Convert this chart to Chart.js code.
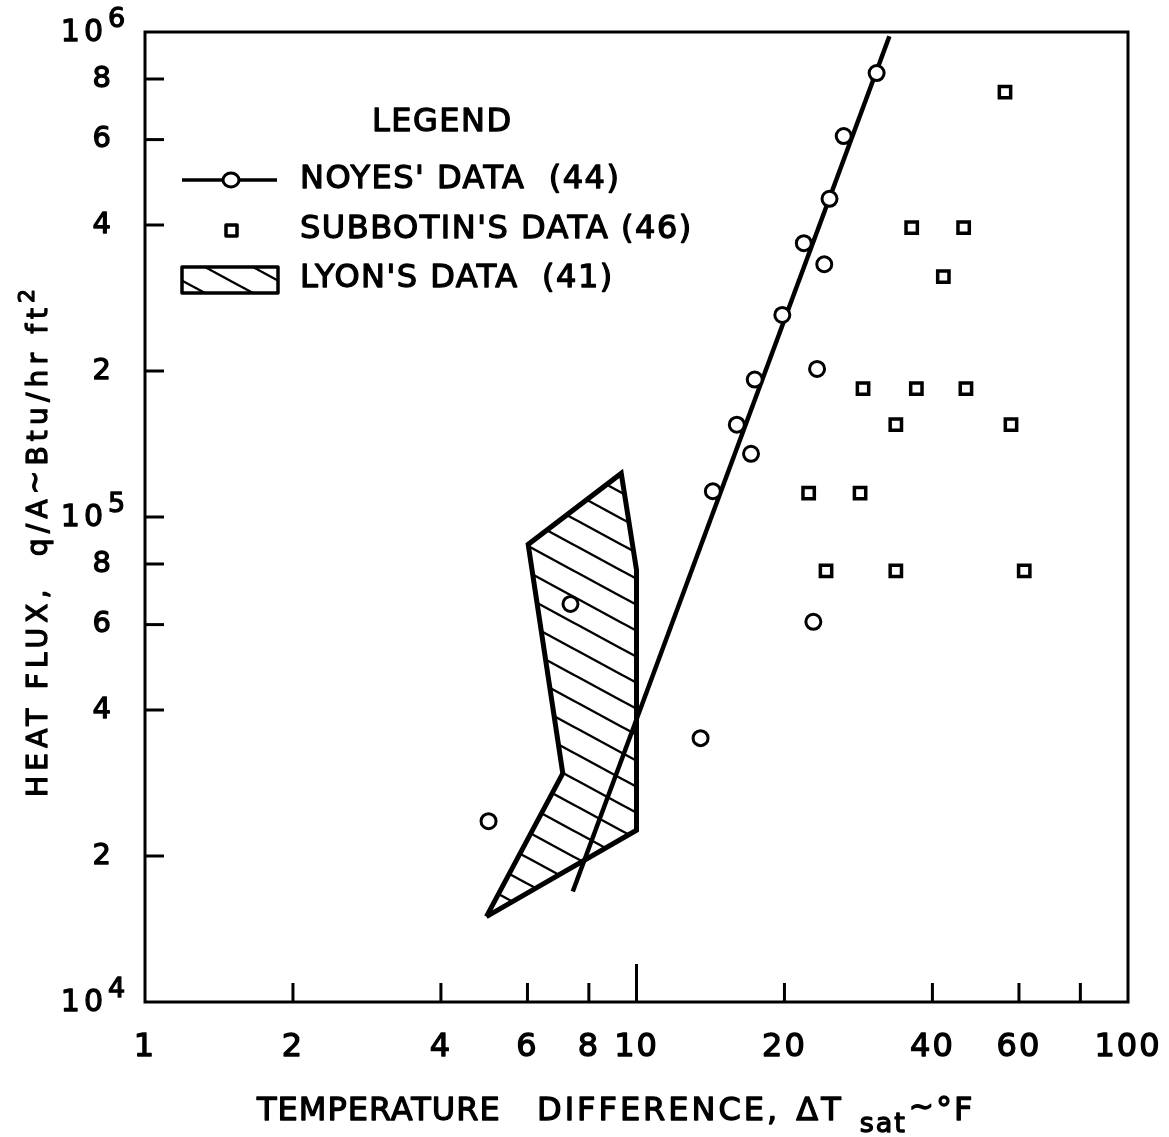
<!DOCTYPE html>
<html>
<head>
<meta charset="utf-8">
<script src="https://cdn.jsdelivr.net/npm/chart.js@4.4.1/dist/chart.umd.min.js"></script>
<style>
  html, body { margin: 0; padding: 0; background: #fff; }
  #wrap { width: 1169px; height: 1137px; position: relative; }
</style>
</head>
<body>
<div id="wrap"><canvas id="chart"></canvas></div>
<script>
(function () {
  "use strict";

  /* ---- data (ΔT in °F, q/A in Btu/hr ft²) ---- */
  var noyesDT = [30.8, 26.4, 24.7, 21.9, 24.1, 19.8, 23.3, 17.4, 16.0, 17.1, 14.3, 7.34, 22.9, 13.5, 5.0];
  var noyesQ  = [823000, 610000, 453000, 367000, 332000, 261000, 202000, 192000, 155000, 135000, 113000, 66200, 60800, 35000, 23600];

  var fitDT = [7.42, 32.7];
  var fitQ  = [16900, 980000];

  var subbotinDT = [56.2, 36.3, 46.3, 42.1, 28.9, 37.1, 46.8, 33.7, 57.8, 22.4, 28.5, 24.3, 33.7, 61.5];
  var subbotinQ  = [752000, 395000, 395000, 313000, 184000, 184000, 184000, 155000, 155000, 112000, 112000, 77400, 77400, 77400];

  var lyonDT = [4.95, 7.08, 6.02, 9.31, 10.0, 10.0, 4.95];
  var lyonQ  = [15000, 29600, 87800, 123000, 77800, 22600, 15000];

  var xTickValues = [2, 4, 6, 8, 10, 20, 40, 60, 80];
  var xLabelValues = [1, 2, 4, 6, 8, 10, 20, 40, 60, 100];
  var xLabelText = ["1", "2", "4", "6", "8", "10", "20", "40", "60", "100"];

  var yTickValues = [2e4, 4e4, 6e4, 8e4, 1e5, 2e5, 4e5, 6e5, 8e5];
  var yLabelValues = [1e4, 2e4, 4e4, 6e4, 8e4, 1e5, 2e5, 4e5, 6e5, 8e5, 1e6];
  var yLabelText = ["10", "2", "4", "6", "8", "10", "2", "4", "6", "8", "10"];
  var yLabelSup  = ["4", "", "", "", "", "5", "", "", "", "", "6"];

  function pts(xs, ys) {
    return xs.map(function (x, i) { return { x: x, y: ys[i] }; });
  }

  // diagonal hatch used for Lyon's band
  function hatch() {
    var W = 48, H = 26;
    var c = document.createElement("canvas");
    c.width = W; c.height = H;
    var g = c.getContext("2d");
    g.strokeStyle = "#000";
    g.lineWidth = 2.4;
    [-1, 0, 1].forEach(function (k) {
      g.beginPath();
      g.moveTo(-2, k * H - 2 * H / W);
      g.lineTo(W + 2, k * H + H + 2 * H / W);
      g.stroke();
    });
    return g.createPattern(c, "repeat");
  }
  var hatchFill = hatch();

  var FONT = "'DejaVu Sans', sans-serif";

  function spaced(ctx, px) {
    if ("letterSpacing" in ctx) ctx.letterSpacing = px + "px";
  }

  // filled + thin outline, to get the heavy lettering of the original
  function txt(ctx, s, x, y) {
    ctx.fillText(s, x, y);
    ctx.strokeText(s, x, y);
  }

  // draw text pieces left to right: [text, size, dy]
  function rich(ctx, parts, x, y, spacing) {
    var cx = x;
    parts.forEach(function (p) {
      ctx.font = p[1] + "px " + FONT;
      spaced(ctx, spacing || 0);
      txt(ctx, p[0], cx, y + (p[2] || 0));
      cx += ctx.measureText(p[0]).width;
    });
    return cx;
  }

  var decor = {
    id: "decor",
    afterDatasetsDraw: function (chart) {
      var ctx = chart.ctx, a = chart.chartArea;
      var xs = chart.scales.x, ys = chart.scales.y;
      ctx.save();
      ctx.strokeStyle = "#000";
      ctx.fillStyle = "#000";
      ctx.lineCap = "butt";

      // frame
      ctx.lineWidth = 3;
      ctx.strokeRect(a.left, a.top, a.right - a.left, a.bottom - a.top);

      // inward ticks
      xTickValues.forEach(function (v) {
        var px = xs.getPixelForValue(v);
        var len = v === 10 ? 38 : 19;
        ctx.beginPath();
        ctx.moveTo(px, a.bottom);
        ctx.lineTo(px, a.bottom - len);
        ctx.stroke();
      });
      yTickValues.forEach(function (v) {
        var py = ys.getPixelForValue(v);
        ctx.beginPath();
        ctx.moveTo(a.left, py);
        ctx.lineTo(a.left + 19, py);
        ctx.stroke();
      });

      ctx.lineWidth = 1.3;
      ctx.lineJoin = "round";

      // x tick labels
      ctx.textBaseline = "middle";
      ctx.textAlign = "center";
      ctx.font = "32px " + FONT;
      spaced(ctx, 2);
      xLabelValues.forEach(function (v, i) {
        txt(ctx, xLabelText[i], xs.getPixelForValue(v), 1048);
      });

      // y tick labels
      yLabelValues.forEach(function (v, i) {
        var py = ys.getPixelForValue(v);
        if (yLabelSup[i]) {
          ctx.textAlign = "right";
          ctx.font = "30px " + FONT;
          spaced(ctx, 4);
          txt(ctx, yLabelText[i], 107, py + 1);
          ctx.textAlign = "left";
          ctx.font = "27px " + FONT;
          spaced(ctx, 0);
          txt(ctx, yLabelSup[i], 108, py - 12);
        } else {
          ctx.textAlign = "right";
          ctx.font = "29px " + FONT;
          spaced(ctx, 0);
          txt(ctx, yLabelText[i], 111, py);
        }
      });

      // x axis title
      ctx.textAlign = "left";
      ctx.textBaseline = "alphabetic";
      rich(ctx, [["TEMPERATURE", 32]], 257, 1120, 1);
      var e = rich(ctx, [["DIFFERENCE,", 32]], 537, 1120, 3);
      e = rich(ctx, [["ΔT", 32]], e + 16, 1120, 3);
      e = rich(ctx, [["sat", 27, 12]], e + 16, 1120, 2);
      rich(ctx, [["~", 30, -4], ["°F", 32]], e + 2, 1120, 2);

      // y axis title (rotated)
      ctx.save();
      ctx.translate(47, 797);
      ctx.rotate(-Math.PI / 2);
      ctx.textBaseline = "alphabetic";
      rich(ctx, [["HEAT FLUX,  q/A", 28], ["~", 28, -3], ["Btu/hr ft", 28], ["2", 22, -13]], 0, 0, 5.2);
      ctx.restore();

      // legend
      ctx.textAlign = "left";
      ctx.textBaseline = "middle";
      ctx.font = "32px " + FONT;
      spaced(ctx, 1.5);
      txt(ctx, "LEGEND", 372, 123);
      txt(ctx, "NOYES' DATA  (44)", 300, 180);
      txt(ctx, "SUBBOTIN'S DATA (46)", 300, 230);
      txt(ctx, "LYON'S DATA  (41)", 300, 279);
      spaced(ctx, 0);

      ctx.lineWidth = 3.5;
      ctx.beginPath();
      ctx.moveTo(182, 180);
      ctx.lineTo(277, 180);
      ctx.stroke();
      ctx.beginPath();
      ctx.ellipse(231, 180, 8, 7, 0, 0, Math.PI * 2);
      ctx.fillStyle = "#fff";
      ctx.fill();
      ctx.lineWidth = 3;
      ctx.stroke();

      ctx.lineWidth = 3.5;
      ctx.fillRect(226, 225, 11, 11);
      ctx.strokeRect(226, 225, 11, 11);

      ctx.fillStyle = hatchFill;
      ctx.fillRect(182, 267, 96, 26);
      ctx.lineWidth = 3.5;
      ctx.strokeRect(182, 267, 96, 26);

      ctx.restore();
    }
  };

  new Chart(document.getElementById("chart"), {
    type: "scatter",
    data: {
      datasets: [
        {
          label: "LYON'S DATA (41)",
          type: "line",
          data: pts(lyonDT, lyonQ),
          borderColor: "#000",
          borderWidth: 5,
          borderJoinStyle: "miter",
          backgroundColor: hatchFill,
          fill: "shape",
          tension: 0,
          pointRadius: 0,
          order: 3
        },
        {
          label: "fit",
          type: "line",
          data: pts(fitDT, fitQ),
          borderColor: "#000",
          borderWidth: 4.5,
          fill: false,
          tension: 0,
          pointRadius: 0,
          order: 2
        },
        {
          label: "NOYES' DATA (44)",
          data: pts(noyesDT, noyesQ),
          pointStyle: "circle",
          pointRadius: 7.5,
          borderWidth: 3,
          borderColor: "#000",
          backgroundColor: "#fff",
          order: 1
        },
        {
          label: "SUBBOTIN'S DATA (46)",
          data: pts(subbotinDT, subbotinQ),
          pointStyle: "rect",
          pointRadius: 8,
          borderWidth: 3.5,
          borderColor: "#000",
          backgroundColor: "#fff",
          order: 1
        }
      ]
    },
    options: {
      responsive: true,
      maintainAspectRatio: false,
      animation: false,
      devicePixelRatio: 1,
      layout: { padding: { left: 145, top: 32, right: 41, bottom: 135 } },
      scales: {
        x: { type: "logarithmic", min: 1, max: 100, display: false },
        y: { type: "logarithmic", min: 1e4, max: 1e6, display: false }
      },
      plugins: {
        legend: { display: false },
        tooltip: { enabled: false }
      },
      events: []
    },
    plugins: [decor]
  });
})();
</script>
</body>
</html>
